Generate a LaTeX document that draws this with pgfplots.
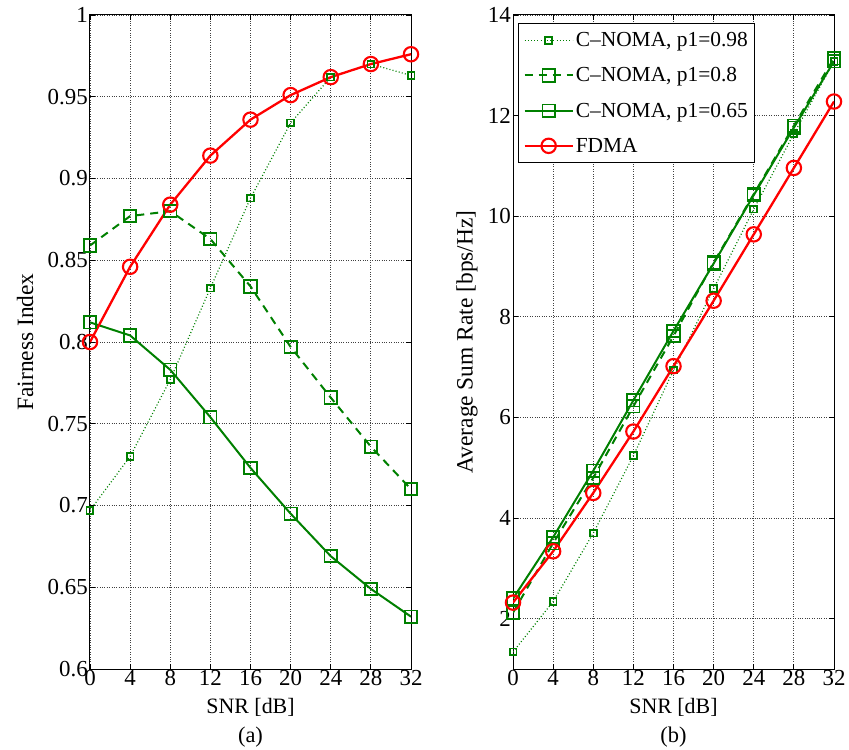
\documentclass[border=0pt]{standalone}
\usepackage{fontspec}
\setmainfont{Liberation Serif}
\usepackage{pgfplots}
\pgfplotsset{compat=1.18}
\definecolor{mgreen}{RGB}{0,128,0}
\definecolor{mred}{RGB}{255,0,0}
\pgfplotsset{
  common/.style={
    scale only axis, width=321bp, height=654bp,
    xmin=0, xmax=32, xtick={0,4,...,32},
    /pgf/number format/assume math mode=true,
    tick label style={font=\fontsize{23}{23}\selectfont},
    xticklabel style={inner sep=1bp},
    yticklabel style={inner sep=2bp},
    label style={font=\fontsize{22}{22}\selectfont},
    grid=major,
    major grid style={dotted, line width=0.8bp, black!75},
    tick align=inside, major tick length=5bp,
    tick style={black, line width=0.8bp},
    axis line style={line width=1bp},
    xlabel={SNR [dB]},
    xlabel style={at={(axis description cs:0.5,-0.058)}, anchor=center},
    legend image code/.code={\draw[mark repeat=2,mark phase=2] plot coordinates {(0bp,0bp) (24bp,0bp) (48bp,0bp)};},
  },
  s98/.style={mgreen, line width=1.2bp, dash pattern=on 1bp off 2.2bp, mark=square, mark size=3.4bp, mark options={solid, line width=1.8bp}},
  s80/.style={mgreen, line width=2bp, dash pattern=on 8bp off 6bp, mark=square, mark size=6.2bp, mark options={solid, line width=1.8bp}},
  s65/.style={mgreen, line width=2bp, mark=square, mark size=6.2bp, mark options={solid, line width=1.8bp}},
  sfd/.style={mred, line width=2.3bp, mark=o, mark size=7.2bp, mark options={solid, line width=2.1bp}},
}
\begin{document}
\begin{tikzpicture}
\useasboundingbox (-90bp,-81bp) rectangle (759bp,669bp);
\begin{axis}[common, at={(0bp,0bp)}, anchor=south west,
  ymin=0.6, ymax=1, ytick={0.6,0.65,...,1.0},
  yticklabels={0.6,0.65,0.7,0.75,0.8,0.85,0.9,0.95,1},
  ylabel={Fairness Index},
  ylabel style={at={(axis description cs:-0.2025,0.5)}, anchor=center, font=\fontsize{23.5}{24}\selectfont},
]
\addplot[s98] coordinates {(0,0.697)(4,0.730)(8,0.777)(12,0.833)(16,0.888)(20,0.934)(24,0.962)(28,0.970)(32,0.963)};
\addplot[s80] coordinates {(0,0.859)(4,0.877)(8,0.880)(12,0.863)(16,0.834)(20,0.797)(24,0.766)(28,0.736)(32,0.710)};
\addplot[s65] coordinates {(0,0.812)(4,0.804)(8,0.783)(12,0.754)(16,0.723)(20,0.695)(24,0.669)(28,0.649)(32,0.632)};
\addplot[sfd] coordinates {(0,0.800)(4,0.846)(8,0.884)(12,0.914)(16,0.936)(20,0.951)(24,0.962)(28,0.970)(32,0.976)};
\end{axis}
\node[font=\fontsize{22.5}{23}\selectfont] at (160.5bp,-68bp) {(a)};
\begin{axis}[common, at={(423bp,0bp)}, anchor=south west,
  ymin=1, ymax=14, ytick={2,4,...,14},
  ylabel={Average Sum Rate [bps/Hz]},
  ylabel style={at={(axis description cs:-0.1433,0.5)}, anchor=center, font=\fontsize{23.5}{24}\selectfont},
  legend style={at={(0.0156,0.988)}, anchor=north west, draw=black, line width=1bp, fill=white,
    font=\fontsize{21.5}{22}\selectfont, row sep=15.5bp, inner xsep=5bp, inner ysep=7bp,
    /tikz/every even column/.append style={column sep=1bp}},
  legend cell align=left,
]
\addplot[s98] coordinates {(0,1.34)(4,2.34)(8,3.70)(12,5.24)(16,6.94)(20,8.56)(24,10.14)(28,11.64)(32,13.08)};
\addlegendentry{C--NOMA, p1=0.98}
\addplot[s80] coordinates {(0,2.12)(4,3.50)(8,4.80)(12,6.22)(16,7.62)(20,9.08)(24,10.44)(28,11.80)(32,13.14)};
\addlegendentry{C--NOMA, p1=0.8}
\addplot[s65] coordinates {(0,2.40)(4,3.62)(8,4.94)(12,6.34)(16,7.72)(20,9.06)(24,10.42)(28,11.76)(32,13.08)};
\addlegendentry{C--NOMA, p1=0.65}
\addplot[sfd] coordinates {(0,2.32)(4,3.34)(8,4.50)(12,5.72)(16,7.02)(20,8.32)(24,9.64)(28,10.96)(32,12.28)};
\addlegendentry{FDMA}
\end{axis}
\node[font=\fontsize{22.5}{23}\selectfont] at (583.5bp,-68bp) {(b)};
\end{tikzpicture}
\end{document}
